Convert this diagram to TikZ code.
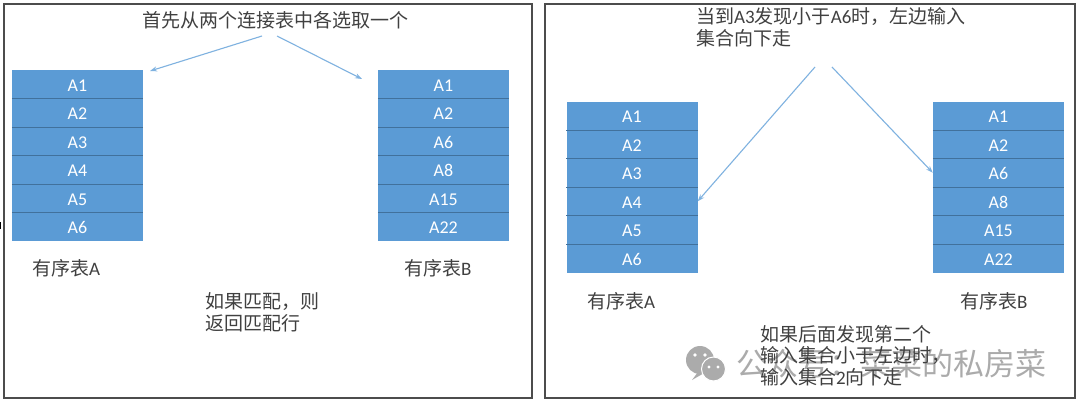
\documentclass[tikz,border=0pt]{standalone}
\usepackage{fontspec}
\usepackage{xcolor}
\setmainfont{Carlito}
\newfontfamily\cjk{Noto Sans CJK SC}
\usetikzlibrary{arrows.meta, calc, positioning}
\definecolor{rowblue}{HTML}{5B9BD5}
\definecolor{rowedge}{HTML}{41719C}
\definecolor{arrowblue}{HTML}{7FB2E0}
\definecolor{inktext}{HTML}{404040}
\definecolor{markgray}{HTML}{ABABAB}
\tikzset{
  rownode/.style={fill=rowblue, minimum width=131pt, minimum height=28.5pt, inner sep=0pt, text height=13.6pt, text depth=0pt, text=white, font=\fontsize{18}{20}\selectfont},
  rowline/.style={draw=rowedge, line width=0.8pt},
  panel/.style={draw=black!70, line width=1.2pt},
  pointer/.style={-{Stealth[length=7pt,width=5pt]}, arrowblue, line width=1.1pt},
  note/.style={anchor=west, align=left, inner sep=0pt, text=inktext, font=\fontsize{19}{21.5}\selectfont\cjk},
  caption/.style={anchor=west, inner sep=0pt, text=inktext, font=\fontsize{19}{21}\selectfont},
}
\begin{document}
\begin{tikzpicture}[x=1pt, y=-1pt]
  \useasboundingbox (0,0) rectangle (1080,408);
  \fill[white] (0,0) rectangle (1080,408);
  \draw[panel] (4,4) rectangle (532,398);
  \draw[panel] (545,4) rectangle (1075,398);
  \draw[black, line width=1.5pt] (0,222) -- (0,229);

  % left panel
  \foreach \t [count=\i] in {A1,A2,A3,A4,A5,A6}
    \node[rownode] (la\i) at (77.5,{70+28.5*(\i-0.5)}) {\t};
  \foreach \t [count=\i] in {A1,A2,A6,A8,A15,A22}
    \node[rownode] (lb\i) at (443.5,{70+28.5*(\i-0.5)}) {\t};
  % right panel
  \foreach \t [count=\i] in {A1,A2,A3,A4,A5,A6}
    \node[rownode] (ra\i) at (632,{101.5+28.5*(\i-0.5)}) {\t};
  \foreach \t [count=\i] in {A1,A2,A6,A8,A15,A22}
    \node[rownode] (rb\i) at (998.5,{101.5+28.5*(\i-0.5)}) {\t};
  \foreach \s in {la,lb,ra,rb}
    \foreach \i in {1,...,5}
      \draw[rowline] (\s\i.south west) -- (\s\i.south east);

  \node[note] (lefttitle) at (142,20) {首先从两个连接表中各选取一个};
  \node[caption] (capla) at (32,268) {{\cjk 有序表}A};
  \node[caption] (caplb) at (404,268) {{\cjk 有序表}B};
  \node[note] (leftmatch) at (205,312.5) {如果匹配，则\\返回匹配行};

  \node[note, font=\fontsize{19}{22}\selectfont] (righttitle) at (696,27) {{\cjk 当到}A3{\cjk 发现小于}A6{\cjk 时，左边输入}\\{\cjk 集合向下走}};
  \node[caption] (capra) at (587,301) {{\cjk 有序表}A};
  \node[caption] (caprb) at (960,301) {{\cjk 有序表}B};

  % watermark
  \fill[markgray] (700,360) circle (14pt);
  \fill[markgray] (698,372) -- (692,380) -- (706,372) -- cycle;
  \draw[fill=markgray, draw=white, line width=1pt] (713.5,369) circle (12pt);
  \fill[white] (695,355) circle (1.8pt) (705,355) circle (1.8pt) (709,367) circle (1.6pt) (718,367) circle (1.6pt);
  \node[anchor=west, inner sep=0pt, text=markgray, font=\fontsize{31}{32}\selectfont\cjk] (mark) at (736,364) {公众号：菜菜的私房菜};

  \node[note] (rightmatch) at (760,355.5) {如果后面发现第二个\\输入集合小于左边时，\\输入集合{\fontspec{Carlito}2}向下走};

  \coordinate (lstarta) at (262,36);
  \coordinate (lstartb) at (277,36);
  \coordinate (lenda) at (150,71);
  \coordinate (lendb) at (362,79);
  \coordinate (rstarta) at (815,67);
  \coordinate (rstartb) at (832,67);
  \draw[pointer] (lstarta) -- (lenda);
  \draw[pointer] (lstartb) -- (lendb);
  \draw[pointer] (rstarta) -- (ra4.east);
  \draw[pointer] (rstartb) -- (rb3.west);
\end{tikzpicture}
\end{document}
